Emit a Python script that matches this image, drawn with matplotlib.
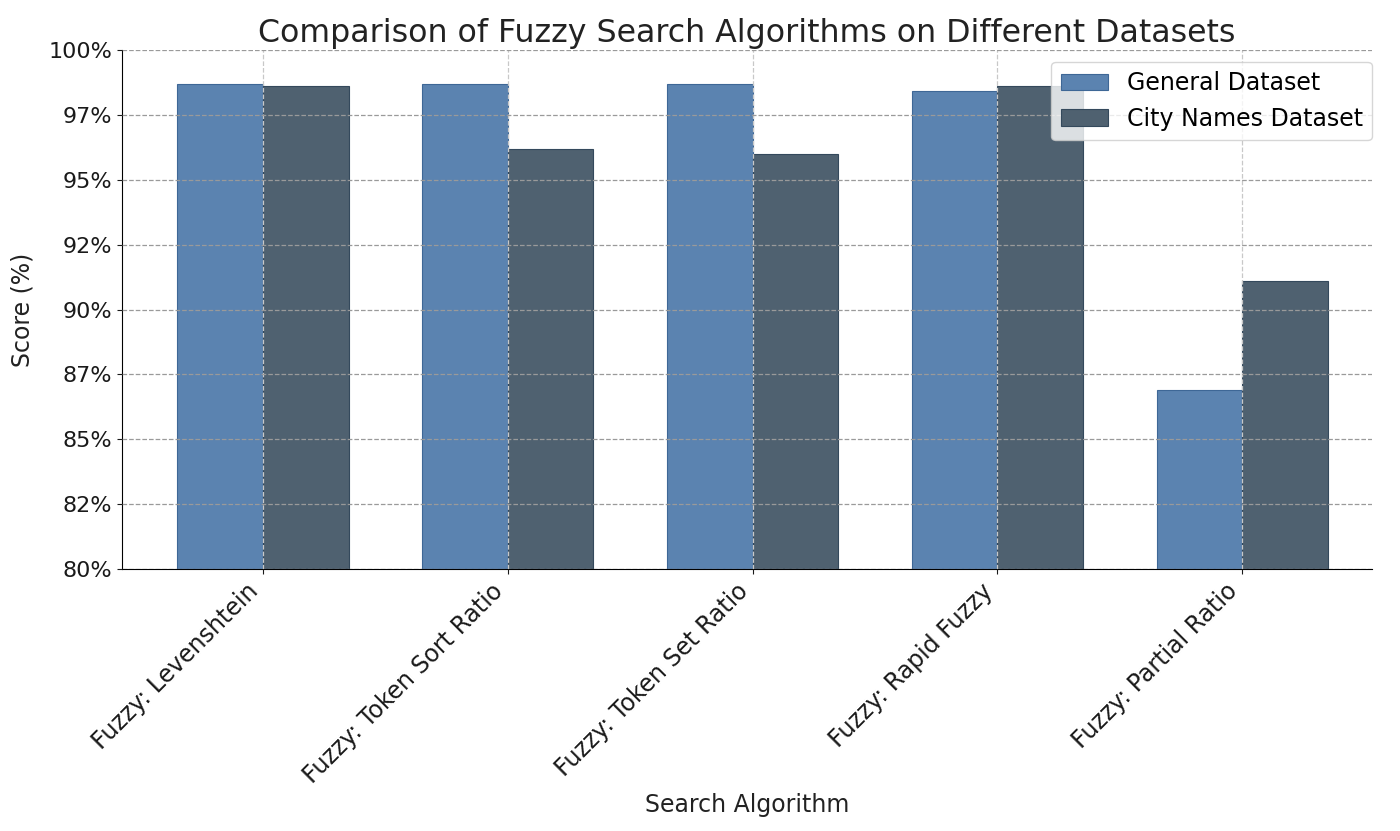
import numpy as np
import matplotlib
matplotlib.use('Agg')
import matplotlib.pyplot as plt
from matplotlib.ticker import FuncFormatter

algorithms = ['Fuzzy: Levenshtein', 'Fuzzy: Token Sort Ratio', 'Fuzzy: Token Set Ratio',
              'Fuzzy: Rapid Fuzzy', 'Fuzzy: Partial Ratio']
general_scores = [98.7, 98.7, 98.7, 98.4, 86.9]
city_scores = [98.6, 96.2, 96.0, 98.6, 91.1]

x = np.arange(len(algorithms))
width = 0.35

fig, ax = plt.subplots(figsize=(14, 8.31), dpi=100)
fig.subplots_adjust(left=0.087, right=0.98, top=0.94, bottom=0.315)

ax.bar(x - width / 2, general_scores, width, label='General Dataset',
       color='#5b83b0', edgecolor='#3e6796', linewidth=0.8)
ax.bar(x + width / 2, city_scores, width, label='City Names Dataset',
       color='#4f6170', edgecolor='#34495c', linewidth=0.8)

ax.set_ylim(80, 100)
ax.set_xlim(-0.576, 4.53)
ax.set_yticks(np.arange(80, 100.1, 2.5))
ax.yaxis.set_major_formatter(FuncFormatter(lambda y, _: f'{int(y)}%'))
ax.set_xticks(x)
ax.set_xticklabels(algorithms, rotation=45, ha='right')
ax.tick_params(axis='y', labelsize=16, colors='#1a1a1a')
ax.tick_params(axis='x', labelsize=17, colors='#1a1a1a')

ax.set_axisbelow(False)
ax.yaxis.grid(True, linestyle='--', color='#9a9a9a', linewidth=0.9)
ax.xaxis.grid(True, linestyle='--', color='#c8c8c8', linewidth=0.9)

for s in ['top', 'right']:
    ax.spines[s].set_visible(False)

ax.set_title('Comparison of Fuzzy Search Algorithms on Different Datasets',
             fontsize=22.8, color='#222222')
ax.set_xlabel('Search Algorithm', fontsize=17, color='#222222', labelpad=4)
ax.set_ylabel('Score (%)', fontsize=17, color='#222222', labelpad=10)
ax.legend(loc='upper right', fontsize=17, bbox_to_anchor=(1.0096, 1.0))

plt.savefig('out.png', dpi=100)
